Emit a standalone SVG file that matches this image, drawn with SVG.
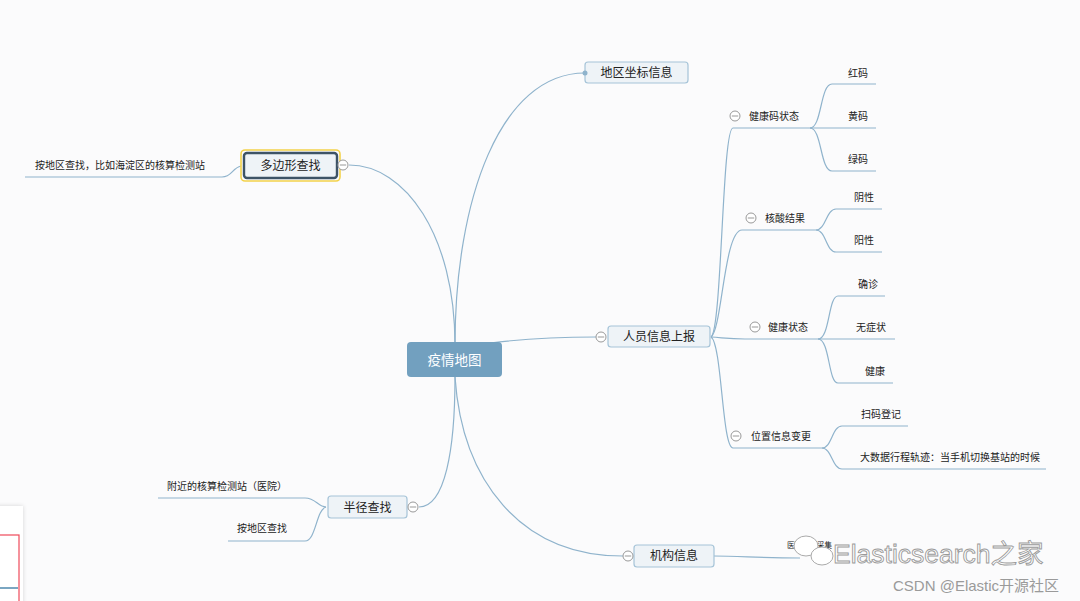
<svg xmlns="http://www.w3.org/2000/svg" width="1080" height="601" viewBox="0 0 1080 601">
<defs>
<style>
.t{font-family:"Noto Sans CJK SC","Liberation Sans",sans-serif;font-size:10px;fill:#222}
.n{font-family:"Noto Sans CJK SC","Liberation Sans",sans-serif;font-size:12px;fill:#222;text-anchor:middle}
.box{fill:#eef3f7;stroke:#a6c4d8;stroke-width:1.2}
.c{fill:none;stroke:#8fb3cc;stroke-width:1.2}
.col{fill:#fff;stroke:#999;stroke-width:1}
</style>
<g id="collapse"><circle r="5" class="col"/><line x1="-3.2" y1="0" x2="3.2" y2="0" stroke="#999" stroke-width="1"/></g>
<filter id="sh" x="-50%" y="-50%" width="200%" height="200%"><feDropShadow dx="0" dy="0" stdDeviation="2" flood-color="#000" flood-opacity="0.15"/></filter>
</defs>
<rect width="1080" height="601" fill="#fbfbfc"/>

<g id="connectors">
<path class="c" d="M455,345 C455,200 500,73 585,73"/>
<path class="c" d="M455,345 C455,235 405,165 349,165"/>
<path class="c" d="M490,343 C530,338 560,337 596,337"/>
<path class="c" d="M455,377 C455,450 445,507 419,507"/>
<path class="c" d="M455,377 C462,480 520,556 623,556"/>
<path class="c" d="M241,166 C232,168 232,177 222,177 L25,177"/>
<path class="c" d="M326,507 C318,507 316,498 305,498 L158,498"/>
<path class="c" d="M326,507 C316,510 316,541 305,541 L228,541"/>
<path class="c" d="M714,556 C740,556 760,558 800,558"/>
<path class="c" d="M711,337 C722,330 722,128 733,128 L810,128"/>
<path class="c" d="M711,337 C722,330 724,230 742,230 L816,230"/>
<path class="c" d="M711,337 C725,338 730,339 745,339 L818,339"/>
<path class="c" d="M711,337 C722,344 722,448 733,448 L822,448"/>
<path class="c" d="M810,128 C822,128 820,84 832,84 L876,84"/>
<path class="c" d="M810,128 L876,128"/>
<path class="c" d="M810,128 C822,128 820,171 832,171 L876,171"/>
<path class="c" d="M816,230 C826,230 826,209 836,209 L882,209"/>
<path class="c" d="M816,230 C826,230 826,252 836,252 L882,252"/>
<path class="c" d="M818,339 C830,339 828,296 838,296 L885,296"/>
<path class="c" d="M818,339 L895,339"/>
<path class="c" d="M818,339 C830,339 828,383 838,383 L893,383"/>
<path class="c" d="M822,448 C832,448 832,426 842,426 L908,426"/>
<path class="c" d="M822,448 C832,448 832,469 842,469 L1046,469"/>
</g>

<g id="center"><rect x="407" y="342" width="95" height="35" rx="4" fill="#72a0bf"/><text x="454.5" y="364.5" class="n" style="fill:#fff;font-size:13.5px">疫情地图</text></g>

<g id="n-dqzb"><rect class="box" x="585" y="62" width="103" height="21" rx="3"/><circle cx="585" cy="73" r="2.5" fill="#8fb3cc"/><text x="636.5" y="77" class="n">地区坐标信息</text></g>

<g id="n-ryxx"><rect class="box" x="608" y="326" width="102" height="21" rx="3"/><use href="#collapse" x="601" y="337"/><text x="659" y="341" class="n">人员信息上报</text></g>

<g id="n-jgxx"><rect class="box" x="634" y="545" width="80" height="22" rx="3"/><use href="#collapse" x="628" y="556"/><text x="674" y="560" class="n">机构信息</text></g>

<g id="n-dbx"><rect x="241" y="150" width="99" height="31" rx="4" fill="none" stroke="#f3d24a" stroke-width="1.6"/><rect x="244" y="153" width="93" height="25" rx="3" fill="#eef3f7" stroke="#3d5366" stroke-width="2.4"/><use href="#collapse" x="343" y="165"/><text x="290.5" y="170" class="n">多边形查找</text></g>

<g id="n-bj"><rect class="box" x="328" y="496" width="79" height="22" rx="3"/><use href="#collapse" x="413" y="507"/><text x="367.5" y="511.5" class="n">半径查找</text></g>

<g id="l-dbx1"><text x="35" y="169" class="t">按地区查找，比如海淀区的核算检测站</text></g>
<g id="l-bj1"><text x="167" y="490" class="t">附近的核算检测站（医院）</text></g>
<g id="l-bj2"><text x="237" y="532" class="t">按地区查找</text></g>

<g id="s-jkm"><use href="#collapse" x="735" y="116"/><text x="749" y="120" class="t">健康码状态</text></g>
<g id="s-hs"><use href="#collapse" x="751" y="218"/><text x="765" y="222" class="t">核酸结果</text></g>
<g id="s-jkzt"><use href="#collapse" x="755" y="327"/><text x="768" y="331" class="t">健康状态</text></g>
<g id="s-wz"><use href="#collapse" x="736" y="436"/><text x="751" y="440" class="t">位置信息变更</text></g>

<g id="l-hm"><text x="848" y="77" class="t">红码</text></g>
<g id="l-huangm"><text x="848" y="120" class="t">黄码</text></g>
<g id="l-lm"><text x="848" y="163" class="t">绿码</text></g>
<g id="l-yinx"><text x="854" y="201" class="t">阴性</text></g>
<g id="l-yangx"><text x="854" y="244" class="t">阳性</text></g>
<g id="l-qz"><text x="858" y="288" class="t">确诊</text></g>
<g id="l-wzz"><text x="856" y="331" class="t">无症状</text></g>
<g id="l-jk"><text x="865" y="375" class="t">健康</text></g>
<g id="l-smdj"><text x="861" y="418" class="t">扫码登记</text></g>
<g id="l-dsj"><text x="860" y="461" class="t">大数据行程轨迹：当手机切换基站的时候</text></g>
<g id="l-yy"><text x="787" y="548" class="t" style="font-size:7.5px">医院信息采集</text></g>

<g id="watermark">
<g fill="#fff" stroke="#aaa" stroke-width="1">
<ellipse cx="806" cy="546" rx="12" ry="10"/>
<ellipse cx="822" cy="556" rx="11" ry="9"/>
</g>
<text x="833" y="563" style="font-family:'Liberation Sans','Noto Sans CJK SC',sans-serif;font-size:26.5px;fill:#fff;stroke:#9a9a9a;stroke-width:0.9">Elasticsearch之家</text>
<text x="893" y="591" style="font-family:'Liberation Sans','Noto Sans CJK SC',sans-serif;font-size:15px;fill:#9a9a9a">CSDN @Elastic开源社区</text>
</g>

<g id="panel">
<rect x="-5" y="506" width="28" height="100" fill="#fff" filter="url(#sh)"/>
<rect x="-5" y="535" width="24" height="70" fill="none" stroke="#ef4a5a" stroke-width="1.2"/>
<line x1="0" y1="588" x2="18" y2="588" stroke="#7aa6c2" stroke-width="2"/>
</g>
</svg>
